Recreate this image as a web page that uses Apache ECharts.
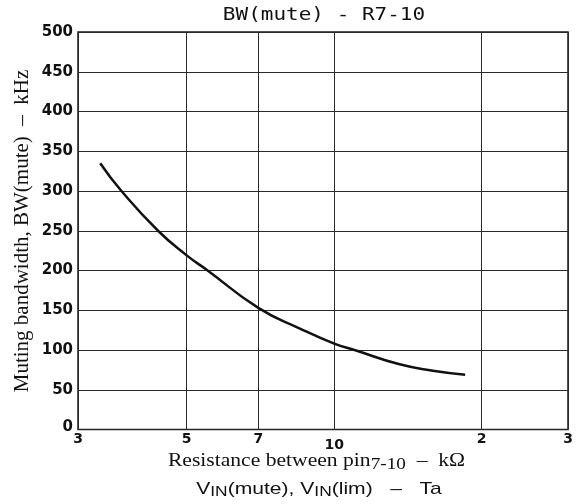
<!DOCTYPE html>
<html>
<head>
<meta charset="utf-8">
<script src="https://cdn.jsdelivr.net/npm/echarts@6/dist/echarts.min.js"></script>
<style>
html,body{margin:0;padding:0;background:#fff;}
#chart{width:581px;height:504px;}
</style>
</head>
<body>
<div id="chart"></div>
<script>
// Data
const resistanceKOhm = [3.33, 3.68, 4.37, 5.0, 5.49, 7.0, 8.51, 10.0, 11.0, 13.6, 15.9, 18.5];
const bandwidthKHz   = [335, 300, 250, 219, 201, 153, 127, 108, 100, 82, 74, 69];
const xTickValues = [3, 5, 7, 10, 20, 30];
const xTickLabels = ['3', '5', '7', '10', '2', '3'];
const yMin = 0, yMax = 500, yStep = 50;

const chart = echarts.init(document.getElementById('chart'));
const points = resistanceKOhm.map((x, i) => [x, bandwidthKHz[i]]);
const lineColor = '#2a2a2a';
const ink = '#111';

chart.setOption({
  animation: false,
  backgroundColor: '#ffffff',
  grid: {
    left: 78, right: 13, top: 32, bottom: 74.5,
    show: true, borderColor: '#1a1a1a', borderWidth: 1.5, backgroundColor: 'transparent'
  },
  xAxis: {
    type: 'log', logBase: 10, min: 3, max: 30,
    axisLine: { show: false },
    axisTick: { show: false, customValues: xTickValues },
    axisLabel: {
      customValues: xTickValues,
      margin: 3,
      formatter: function (v) {
        const i = xTickValues.indexOf(Math.round(v));
        const t = i >= 0 ? xTickLabels[i] : '';
        return Math.round(v) === 10 ? '{low|' + t + '}' : '{n|' + t + '}';
      },
      rich: {
        n: { fontFamily: 'DejaVu Sans', fontWeight: 'bold', fontSize: 14, color: ink },
        low: { fontFamily: 'DejaVu Sans', fontWeight: 'bold', fontSize: 14, color: ink, padding: [6, 0, 0, 0] }
      }
    },
    splitLine: { show: true, lineStyle: { color: lineColor, width: 1 } }
  },
  yAxis: {
    type: 'value', min: yMin, max: yMax, interval: yStep,
    axisLine: { show: false },
    axisTick: { show: false },
    axisLabel: {
      margin: 5,
      fontFamily: 'DejaVu Sans', fontWeight: 'bold', fontSize: 15, color: ink,
      formatter: function (v) { return v === 0 ? '{z|0}' : String(v); },
      rich: { z: { fontFamily: 'DejaVu Sans', fontWeight: 'bold', fontSize: 15, color: ink, padding: [0, 0, 4, 0] } }
    },
    splitLine: { show: true, lineStyle: { color: lineColor, width: 1 } }
  },
  graphic: [
    {
      type: 'text', x: 324, y: 15, scaleX: 1.2,
      style: {
        text: 'BW(mute) - R7-10', textAlign: 'center', textVerticalAlign: 'middle',
        fontFamily: 'DejaVu Sans Mono', fontSize: 17.5, fill: ink
      }
    },
    {
      type: 'text', x: 316.5, y: 461, scaleX: 1.2,
      style: {
        text: '{a|Resistance between pin}{s|7-10}{a|  –  kΩ}',
        textAlign: 'center', textVerticalAlign: 'middle',
        rich: {
          a: { fontFamily: 'Liberation Serif', fontSize: 18, fill: ink },
          s: { fontFamily: 'Liberation Serif', fontSize: 16, fill: ink, padding: [7, 0, 0, 0] }
        }
      }
    },
    {
      type: 'text', x: 319, y: 489, scaleX: 1.24,
      style: {
        text: '{a|V}{s|IN}{a|(mute), V}{s|IN}{a|(lim)   –   Ta}',
        textAlign: 'center', textVerticalAlign: 'middle',
        rich: {
          a: { fontFamily: 'Liberation Sans', fontSize: 17, fill: ink },
          s: { fontFamily: 'Liberation Sans', fontSize: 14, fill: ink, padding: [7, 0, 0, 0] }
        }
      }
    },
    {
      type: 'text', x: 22, y: 231, rotation: Math.PI / 2,
      style: {
        text: 'Muting bandwidth, BW(mute)  –  kHz',
        textAlign: 'center', textVerticalAlign: 'middle',
        fontFamily: 'Liberation Serif', fontSize: 21, fill: ink
      }
    }
  ],
  series: [{
    type: 'line', data: points, smooth: 0.5, showSymbol: false,
    lineStyle: { color: ink, width: 2.5 }
  }]
});
</script>
</body>
</html>
